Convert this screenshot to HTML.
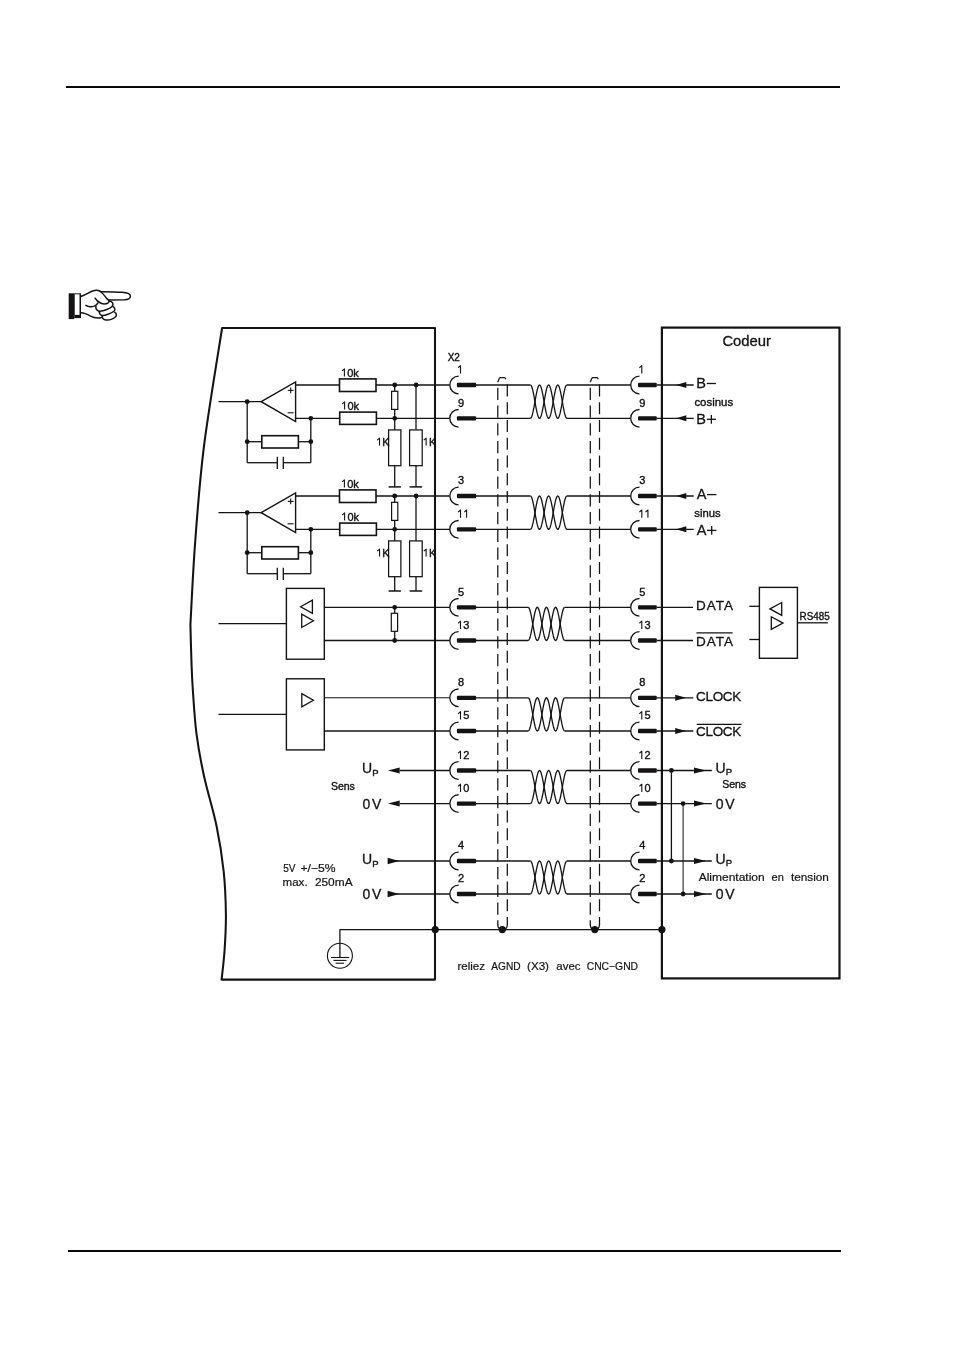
<!DOCTYPE html>
<html><head><meta charset="utf-8"><style>
html,body{margin:0;padding:0;background:#fff;}
body{width:954px;height:1350px;overflow:hidden;font-family:"Liberation Sans",sans-serif;}
svg{display:block;will-change:transform;}
</style></head><body>
<svg width="954" height="1350" viewBox="0 0 954 1350">
<rect x="66" y="86" width="774" height="2" fill="#0a0808"/>
<rect x="68" y="1250" width="773" height="2" fill="#0a0808"/>
<rect x="68.7" y="293.3" width="5.6" height="25.8" fill="#141212"/>
<rect x="74.3" y="293.3" width="6.7" height="24.8" fill="#141212"/>
<rect x="74.9" y="294.3" width="4.6" height="20.6" fill="#fff"/>
<path d="M80.8,296.5 C84,295.6 88,293 92.6,291 C95,290 98,290 100,291.2 L101,291.7 C108,291.8 116,291.9 122,292.3 C127,292.7 130.5,294 130.4,296.2 C130.3,298.4 127.5,299.6 124.4,299.8 L108.5,300" fill="none" stroke="#141212" stroke-width="1.5" stroke-linecap="round" stroke-linejoin="round"/>
<path d="M99.7,291 C102,292.6 104.5,295.5 106.8,298.6 L108.5,300" fill="none" stroke="#141212" stroke-width="1.5" stroke-linecap="round" stroke-linejoin="round"/>
<path d="M95.1,298.2 C96,300 98,302 101,303.2 C103,304 105.5,304.2 107.7,303.2 C109,302.4 109.5,301 108.5,300" fill="none" stroke="#141212" stroke-width="1.5" stroke-linecap="round" stroke-linejoin="round"/>
<path d="M85.9,305.3 C88,306.5 91,307.3 94.3,306.1 C96,305.4 97.3,304 98,302.8" fill="none" stroke="#141212" stroke-width="1.5" stroke-linecap="round" stroke-linejoin="round"/>
<path d="M95.9,305.7 C95.6,308 96.3,310.2 98.5,311 C101,311.6 104,310.6 106.8,309.5 C109,308.6 111.5,307.5 112.6,305.8 C113.6,304 112.5,301.6 109.4,301.1" fill="none" stroke="#141212" stroke-width="1.5" stroke-linecap="round" stroke-linejoin="round"/>
<path d="M99.3,311.6 C99.2,313.3 100.3,315 102.2,315.4 C104,315.6 106,315 107.3,314.5 C110,313.5 112.5,312.5 114,311.2 C115.5,309.8 115.2,307.5 112.3,306.1" fill="none" stroke="#141212" stroke-width="1.5" stroke-linecap="round" stroke-linejoin="round"/>
<path d="M102.2,316.2 C102.2,318 103.5,319.6 106,320 C108,320.2 110,319.8 111.9,319.1 C114,318.3 116,317.3 116.3,315.5 C116.5,314 115.8,313 114.8,312.4" fill="none" stroke="#141212" stroke-width="1.5" stroke-linecap="round" stroke-linejoin="round"/>
<path d="M80.8,312.8 C83,312.8 86,313.5 90.5,316.2 C93,317.5 96,318.2 99.7,317.9 C100.8,317.8 101.6,317.5 102.2,317" fill="none" stroke="#141212" stroke-width="1.5" stroke-linecap="round" stroke-linejoin="round"/>
<path d="M222.1,328 C219.08,347.67 208.48,410.38 204.00,446.00 C199.52,481.62 197.47,511.90 195.20,541.70 C192.93,571.50 191.20,610.95 190.40,624.80 C190.57,630.67 191.02,649.50 191.40,660.00 C191.78,670.50 191.87,675.62 192.70,687.80 C193.53,699.98 194.52,718.40 196.40,733.10 C198.28,747.80 200.63,760.47 204.00,776.00 C207.37,791.53 213.32,810.35 216.60,826.30 C219.88,842.25 222.15,857.00 223.70,871.70 C225.25,886.40 225.75,901.45 225.90,914.50 C226.05,927.55 225.32,939.15 224.60,950.00 C223.88,960.85 222.10,974.67 221.60,979.60 L435,979.6 L435,328 Z" fill="none" stroke="#141212" stroke-width="2.05" stroke-linejoin="round"/>
<rect x="661.90" y="327.60" width="177.60" height="650.80" fill="none" stroke="#141212" stroke-width="2.2"/>
<line x1="218.50" y1="401.65" x2="261.20" y2="401.65" stroke="#141212" stroke-width="1.3"/>
<polygon points="261.20,401.65 295.60,381.85 295.60,421.55" fill="none" stroke="#141212" stroke-width="1.4" stroke-linejoin="miter" />
<line x1="287.80" y1="390.40" x2="293.60" y2="390.40" stroke="#141212" stroke-width="1.1"/>
<line x1="290.70" y1="387.50" x2="290.70" y2="393.30" stroke="#141212" stroke-width="1.1"/>
<line x1="287.60" y1="412.80" x2="293.60" y2="412.80" stroke="#141212" stroke-width="1.1"/>
<line x1="295.60" y1="385.00" x2="339.50" y2="385.00" stroke="#141212" stroke-width="1.3"/>
<line x1="376.00" y1="385.00" x2="449.70" y2="385.00" stroke="#141212" stroke-width="1.3"/>
<line x1="295.60" y1="418.30" x2="339.70" y2="418.30" stroke="#141212" stroke-width="1.3"/>
<line x1="376.40" y1="418.30" x2="449.70" y2="418.30" stroke="#141212" stroke-width="1.3"/>
<rect x="339.50" y="378.90" width="36.50" height="12.60" fill="#fff" stroke="#141212" stroke-width="1.6"/>
<rect x="339.70" y="412.10" width="36.70" height="12.30" fill="#fff" stroke="#141212" stroke-width="1.6"/>
<text x="341.10" y="376.50" font-family="Liberation Sans" font-size="11" fill="#141212" stroke="#141212" stroke-width="0.38" text-anchor="start" >&#8199;0k</text>
<path d="M341.98,370.89 Q343.30,369.90 344.40,368.80 L344.40,376.50" fill="none" stroke="#141212" stroke-width="1.1" stroke-linejoin="round"/>
<text x="341.30" y="409.60" font-family="Liberation Sans" font-size="11" fill="#141212" stroke="#141212" stroke-width="0.38" text-anchor="start" >&#8199;0k</text>
<path d="M342.18,403.99 Q343.50,403.00 344.60,401.90 L344.60,409.60" fill="none" stroke="#141212" stroke-width="1.1" stroke-linejoin="round"/>
<circle cx="394.70" cy="385.00" r="2.4" fill="#141212"/>
<circle cx="416.10" cy="385.00" r="2.4" fill="#141212"/>
<circle cx="394.70" cy="418.30" r="2.4" fill="#141212"/>
<circle cx="310.80" cy="418.30" r="2.4" fill="#141212"/>
<line x1="394.70" y1="385.00" x2="394.70" y2="418.30" stroke="#141212" stroke-width="1.3"/>
<rect x="391.60" y="391.30" width="6.20" height="18.10" fill="#fff" stroke="#141212" stroke-width="1.2"/>
<line x1="394.70" y1="418.30" x2="394.70" y2="429.90" stroke="#141212" stroke-width="1.3"/>
<line x1="416.00" y1="385.00" x2="416.00" y2="429.90" stroke="#141212" stroke-width="1.3"/>
<rect x="388.60" y="429.90" width="12.30" height="35.80" fill="#fff" stroke="#141212" stroke-width="1.25"/>
<rect x="409.60" y="429.90" width="12.60" height="35.80" fill="#fff" stroke="#141212" stroke-width="1.25"/>
<line x1="394.70" y1="465.70" x2="394.70" y2="486.90" stroke="#141212" stroke-width="1.3"/>
<line x1="416.00" y1="465.70" x2="416.00" y2="486.90" stroke="#141212" stroke-width="1.3"/>
<line x1="388.60" y1="486.90" x2="400.90" y2="486.90" stroke="#141212" stroke-width="1.5"/>
<line x1="409.60" y1="486.90" x2="422.20" y2="486.90" stroke="#141212" stroke-width="1.5"/>
<text x="376.30" y="445.60" font-family="Liberation Sans" font-size="10.8" fill="#141212" stroke="#141212" stroke-width="0.38" text-anchor="start" >&#8199;K</text>
<path d="M377.16,440.09 Q378.46,439.12 379.54,438.04 L379.54,445.60" fill="none" stroke="#141212" stroke-width="1.1" stroke-linejoin="round"/>
<text x="422.90" y="445.60" font-family="Liberation Sans" font-size="10.8" fill="#141212" stroke="#141212" stroke-width="0.38" text-anchor="start" >&#8199;K</text>
<path d="M423.76,440.09 Q425.06,439.12 426.14,438.04 L426.14,445.60" fill="none" stroke="#141212" stroke-width="1.1" stroke-linejoin="round"/>
<circle cx="247.20" cy="401.65" r="2.4" fill="#141212"/>
<line x1="247.20" y1="401.65" x2="247.20" y2="462.70" stroke="#141212" stroke-width="1.3"/>
<line x1="310.80" y1="418.30" x2="310.80" y2="462.70" stroke="#141212" stroke-width="1.3"/>
<line x1="247.20" y1="462.70" x2="277.30" y2="462.70" stroke="#141212" stroke-width="1.3"/>
<line x1="283.30" y1="462.70" x2="310.80" y2="462.70" stroke="#141212" stroke-width="1.3"/>
<line x1="277.30" y1="456.70" x2="277.30" y2="469.10" stroke="#141212" stroke-width="1.3"/>
<line x1="283.30" y1="456.70" x2="283.30" y2="469.10" stroke="#141212" stroke-width="1.3"/>
<line x1="247.20" y1="441.70" x2="261.80" y2="441.70" stroke="#141212" stroke-width="1.3"/>
<line x1="298.40" y1="441.70" x2="310.80" y2="441.70" stroke="#141212" stroke-width="1.3"/>
<rect x="261.80" y="435.70" width="36.60" height="12.30" fill="#fff" stroke="#141212" stroke-width="1.6"/>
<circle cx="247.20" cy="441.70" r="2.4" fill="#141212"/>
<circle cx="310.80" cy="441.70" r="2.4" fill="#141212"/>
<line x1="218.50" y1="512.65" x2="261.20" y2="512.65" stroke="#141212" stroke-width="1.3"/>
<polygon points="261.20,512.65 295.60,492.85 295.60,532.55" fill="none" stroke="#141212" stroke-width="1.4" stroke-linejoin="miter" />
<line x1="287.80" y1="501.40" x2="293.60" y2="501.40" stroke="#141212" stroke-width="1.1"/>
<line x1="290.70" y1="498.50" x2="290.70" y2="504.30" stroke="#141212" stroke-width="1.1"/>
<line x1="287.60" y1="523.80" x2="293.60" y2="523.80" stroke="#141212" stroke-width="1.1"/>
<line x1="295.60" y1="496.00" x2="339.50" y2="496.00" stroke="#141212" stroke-width="1.3"/>
<line x1="376.00" y1="496.00" x2="449.70" y2="496.00" stroke="#141212" stroke-width="1.3"/>
<line x1="295.60" y1="529.30" x2="339.70" y2="529.30" stroke="#141212" stroke-width="1.3"/>
<line x1="376.40" y1="529.30" x2="449.70" y2="529.30" stroke="#141212" stroke-width="1.3"/>
<rect x="339.50" y="489.90" width="36.50" height="12.60" fill="#fff" stroke="#141212" stroke-width="1.6"/>
<rect x="339.70" y="523.10" width="36.70" height="12.30" fill="#fff" stroke="#141212" stroke-width="1.6"/>
<text x="341.10" y="487.50" font-family="Liberation Sans" font-size="11" fill="#141212" stroke="#141212" stroke-width="0.38" text-anchor="start" >&#8199;0k</text>
<path d="M341.98,481.89 Q343.30,480.90 344.40,479.80 L344.40,487.50" fill="none" stroke="#141212" stroke-width="1.1" stroke-linejoin="round"/>
<text x="341.30" y="520.60" font-family="Liberation Sans" font-size="11" fill="#141212" stroke="#141212" stroke-width="0.38" text-anchor="start" >&#8199;0k</text>
<path d="M342.18,514.99 Q343.50,514.00 344.60,512.90 L344.60,520.60" fill="none" stroke="#141212" stroke-width="1.1" stroke-linejoin="round"/>
<circle cx="394.70" cy="496.00" r="2.4" fill="#141212"/>
<circle cx="416.10" cy="496.00" r="2.4" fill="#141212"/>
<circle cx="394.70" cy="529.30" r="2.4" fill="#141212"/>
<circle cx="310.80" cy="529.30" r="2.4" fill="#141212"/>
<line x1="394.70" y1="496.00" x2="394.70" y2="529.30" stroke="#141212" stroke-width="1.3"/>
<rect x="391.60" y="502.30" width="6.20" height="18.10" fill="#fff" stroke="#141212" stroke-width="1.2"/>
<line x1="394.70" y1="529.30" x2="394.70" y2="540.90" stroke="#141212" stroke-width="1.3"/>
<line x1="416.00" y1="496.00" x2="416.00" y2="540.90" stroke="#141212" stroke-width="1.3"/>
<rect x="388.60" y="540.90" width="12.30" height="35.80" fill="#fff" stroke="#141212" stroke-width="1.25"/>
<rect x="409.60" y="540.90" width="12.60" height="35.80" fill="#fff" stroke="#141212" stroke-width="1.25"/>
<line x1="394.70" y1="576.70" x2="394.70" y2="591.00" stroke="#141212" stroke-width="1.3"/>
<line x1="416.00" y1="576.70" x2="416.00" y2="591.00" stroke="#141212" stroke-width="1.3"/>
<line x1="388.60" y1="591.00" x2="400.90" y2="591.00" stroke="#141212" stroke-width="1.5"/>
<line x1="409.60" y1="591.00" x2="422.20" y2="591.00" stroke="#141212" stroke-width="1.5"/>
<text x="376.30" y="556.60" font-family="Liberation Sans" font-size="10.8" fill="#141212" stroke="#141212" stroke-width="0.38" text-anchor="start" >&#8199;K</text>
<path d="M377.16,551.09 Q378.46,550.12 379.54,549.04 L379.54,556.60" fill="none" stroke="#141212" stroke-width="1.1" stroke-linejoin="round"/>
<text x="422.90" y="556.60" font-family="Liberation Sans" font-size="10.8" fill="#141212" stroke="#141212" stroke-width="0.38" text-anchor="start" >&#8199;K</text>
<path d="M423.76,551.09 Q425.06,550.12 426.14,549.04 L426.14,556.60" fill="none" stroke="#141212" stroke-width="1.1" stroke-linejoin="round"/>
<circle cx="247.20" cy="512.65" r="2.4" fill="#141212"/>
<line x1="247.20" y1="512.65" x2="247.20" y2="573.70" stroke="#141212" stroke-width="1.3"/>
<line x1="310.80" y1="529.30" x2="310.80" y2="573.70" stroke="#141212" stroke-width="1.3"/>
<line x1="247.20" y1="573.70" x2="277.30" y2="573.70" stroke="#141212" stroke-width="1.3"/>
<line x1="283.30" y1="573.70" x2="310.80" y2="573.70" stroke="#141212" stroke-width="1.3"/>
<line x1="277.30" y1="567.70" x2="277.30" y2="580.10" stroke="#141212" stroke-width="1.3"/>
<line x1="283.30" y1="567.70" x2="283.30" y2="580.10" stroke="#141212" stroke-width="1.3"/>
<line x1="247.20" y1="552.70" x2="261.80" y2="552.70" stroke="#141212" stroke-width="1.3"/>
<line x1="298.40" y1="552.70" x2="310.80" y2="552.70" stroke="#141212" stroke-width="1.3"/>
<rect x="261.80" y="546.70" width="36.60" height="12.30" fill="#fff" stroke="#141212" stroke-width="1.6"/>
<circle cx="247.20" cy="552.70" r="2.4" fill="#141212"/>
<circle cx="310.80" cy="552.70" r="2.4" fill="#141212"/>
<rect x="286.40" y="588.40" width="37.90" height="70.80" fill="none" stroke="#141212" stroke-width="1.4"/>
<line x1="218.50" y1="623.60" x2="286.40" y2="623.60" stroke="#141212" stroke-width="1.3"/>
<polygon points="300.60,606.70 312.40,600.10 312.40,613.30" fill="none" stroke="#141212" stroke-width="1.3" stroke-linejoin="miter" />
<polygon points="301.70,614.20 301.70,627.50 313.40,620.80" fill="none" stroke="#141212" stroke-width="1.3" stroke-linejoin="miter" />
<line x1="324.30" y1="607.30" x2="449.70" y2="607.30" stroke="#141212" stroke-width="1.3"/>
<line x1="324.30" y1="640.50" x2="449.70" y2="640.50" stroke="#141212" stroke-width="1.3"/>
<circle cx="394.70" cy="607.30" r="2.4" fill="#141212"/>
<circle cx="394.70" cy="640.50" r="2.4" fill="#141212"/>
<line x1="394.70" y1="607.30" x2="394.70" y2="640.50" stroke="#141212" stroke-width="1.3"/>
<rect x="391.30" y="613.30" width="6.30" height="18.00" fill="#fff" stroke="#141212" stroke-width="1.2"/>
<rect x="286.40" y="678.80" width="37.90" height="71.10" fill="none" stroke="#141212" stroke-width="1.4"/>
<line x1="218.50" y1="714.30" x2="286.40" y2="714.30" stroke="#141212" stroke-width="1.3"/>
<polygon points="301.80,693.70 301.80,706.90 313.40,700.30" fill="none" stroke="#141212" stroke-width="1.3" stroke-linejoin="miter" />
<line x1="324.30" y1="697.80" x2="449.70" y2="697.80" stroke="#141212" stroke-width="1.05"/>
<line x1="324.30" y1="731.00" x2="449.70" y2="731.00" stroke="#141212" stroke-width="1.3"/>
<line x1="399.70" y1="770.50" x2="449.70" y2="770.50" stroke="#141212" stroke-width="1.3"/>
<polygon points="387.9,770.5 399.7,767.5 399.7,773.5" fill="#141212"/>
<line x1="399.70" y1="803.55" x2="449.70" y2="803.55" stroke="#141212" stroke-width="1.3"/>
<polygon points="387.9,803.55 399.7,800.55 399.7,806.55" fill="#141212"/>
<line x1="388.30" y1="861.00" x2="449.70" y2="861.00" stroke="#141212" stroke-width="1.3"/>
<polygon points="399.0,861.0 387.6,857.8 387.6,864.2" fill="#141212"/>
<line x1="388.30" y1="894.00" x2="449.70" y2="894.00" stroke="#141212" stroke-width="1.3"/>
<polygon points="399.0,894 387.6,890.8 387.6,897.2" fill="#141212"/>
<text x="362.00" y="773.40" font-family="Liberation Sans" font-size="14" fill="#141212" stroke="#141212" stroke-width="0.3" text-anchor="start" >U</text>
<text x="372.20" y="775.70" font-family="Liberation Sans" font-size="9.5" fill="#141212" stroke="#141212" stroke-width="0.38" text-anchor="start" >P</text>
<text x="362.40" y="808.80" font-family="Liberation Sans" font-size="14" fill="#141212" stroke="#141212" stroke-width="0.3" text-anchor="start" textLength="18.90" lengthAdjust="spacing" >0V</text>
<text x="362.00" y="864.20" font-family="Liberation Sans" font-size="14" fill="#141212" stroke="#141212" stroke-width="0.3" text-anchor="start" >U</text>
<text x="372.20" y="866.50" font-family="Liberation Sans" font-size="9.5" fill="#141212" stroke="#141212" stroke-width="0.38" text-anchor="start" >P</text>
<text x="362.40" y="899.40" font-family="Liberation Sans" font-size="14" fill="#141212" stroke="#141212" stroke-width="0.3" text-anchor="start" textLength="18.90" lengthAdjust="spacing" >0V</text>
<text x="330.90" y="789.80" font-family="Liberation Sans" font-size="10.5" fill="#141212" stroke="#141212" stroke-width="0.38" text-anchor="start" >Sens</text>
<text x="283.20" y="871.80" font-family="Liberation Sans" font-size="11" fill="#141212" stroke="#141212" stroke-width="0.2" text-anchor="start" textLength="12.40" lengthAdjust="spacingAndGlyphs" >5V</text>
<text x="300.50" y="871.80" font-family="Liberation Sans" font-size="11" fill="#141212" stroke="#141212" stroke-width="0.2" text-anchor="start" textLength="35.00" lengthAdjust="spacingAndGlyphs" >+/&#8722;5%</text>
<text x="282.60" y="886.30" font-family="Liberation Sans" font-size="11" fill="#141212" stroke="#141212" stroke-width="0.2" text-anchor="start" textLength="25.00" lengthAdjust="spacingAndGlyphs" >max.</text>
<text x="314.90" y="886.30" font-family="Liberation Sans" font-size="11" fill="#141212" stroke="#141212" stroke-width="0.2" text-anchor="start" textLength="37.70" lengthAdjust="spacingAndGlyphs" >250mA</text>
<line x1="339.90" y1="929.60" x2="661.90" y2="929.60" stroke="#141212" stroke-width="1.3"/>
<line x1="339.90" y1="929.60" x2="339.90" y2="957.50" stroke="#141212" stroke-width="1.3"/>
<circle cx="339.9" cy="955.7" r="12.5" fill="none" stroke="#141212" stroke-width="1.1"/>
<line x1="331.00" y1="957.50" x2="349.20" y2="957.50" stroke="#141212" stroke-width="1.1"/>
<line x1="333.50" y1="960.40" x2="346.60" y2="960.40" stroke="#141212" stroke-width="1.1"/>
<line x1="335.70" y1="963.20" x2="344.00" y2="963.20" stroke="#141212" stroke-width="1.1"/>
<circle cx="435.20" cy="929.60" r="3.6" fill="#141212"/>
<circle cx="502.30" cy="929.60" r="3.6" fill="#141212"/>
<circle cx="594.80" cy="929.60" r="3.6" fill="#141212"/>
<circle cx="661.90" cy="929.60" r="3.6" fill="#141212"/>
<text x="457.40" y="970.20" font-family="Liberation Sans" font-size="11" fill="#141212" stroke="#141212" stroke-width="0.2" text-anchor="start" textLength="27.70" lengthAdjust="spacingAndGlyphs" >reliez</text>
<text x="491.30" y="970.20" font-family="Liberation Sans" font-size="11" fill="#141212" stroke="#141212" stroke-width="0.2" text-anchor="start" textLength="29.40" lengthAdjust="spacingAndGlyphs" >AGND</text>
<text x="527.00" y="970.20" font-family="Liberation Sans" font-size="11" fill="#141212" stroke="#141212" stroke-width="0.2" text-anchor="start" textLength="22.00" lengthAdjust="spacingAndGlyphs" >(X3)</text>
<text x="556.30" y="970.20" font-family="Liberation Sans" font-size="11" fill="#141212" stroke="#141212" stroke-width="0.2" text-anchor="start" textLength="24.20" lengthAdjust="spacingAndGlyphs" >avec</text>
<text x="586.70" y="970.20" font-family="Liberation Sans" font-size="11" fill="#141212" stroke="#141212" stroke-width="0.2" text-anchor="start" textLength="51.40" lengthAdjust="spacingAndGlyphs" >CNC&#8722;GND</text>
<text x="447.70" y="361.10" font-family="Liberation Sans" font-size="10" fill="#141212" stroke="#141212" stroke-width="0.38" text-anchor="start" >X2</text>
<line x1="476.00" y1="385.00" x2="530.40" y2="385.00" stroke="#141212" stroke-width="1.3"/>
<line x1="566.90" y1="385.00" x2="630.70" y2="385.00" stroke="#141212" stroke-width="1.3"/>
<line x1="476.00" y1="418.30" x2="530.40" y2="418.30" stroke="#141212" stroke-width="1.3"/>
<line x1="566.90" y1="418.30" x2="630.70" y2="418.30" stroke="#141212" stroke-width="1.3"/>
<polyline points="530.40,385.00 530.86,385.20 531.31,385.81 531.77,386.81 532.23,388.18 532.68,389.88 533.14,391.86 533.59,394.09 534.05,396.50 534.51,399.05 534.96,401.65 535.42,404.25 535.88,406.80 536.33,409.21 536.79,411.44 537.24,413.42 537.70,415.12 538.16,416.49 538.61,417.49 539.07,418.10 539.52,418.30 539.98,418.10 540.44,417.49 540.89,416.49 541.35,415.12 541.81,413.42 542.26,411.44 542.72,409.21 543.17,406.80 543.63,404.25 544.09,401.65 544.54,399.05 545.00,396.50 545.46,394.09 545.91,391.86 546.37,389.88 546.82,388.18 547.28,386.81 547.74,385.81 548.19,385.20 548.65,385.00 549.11,385.20 549.56,385.81 550.02,386.81 550.48,388.18 550.93,389.88 551.39,391.86 551.84,394.09 552.30,396.50 552.76,399.05 553.21,401.65 553.67,404.25 554.12,406.80 554.58,409.21 555.04,411.44 555.49,413.42 555.95,415.12 556.41,416.49 556.86,417.49 557.32,418.10 557.77,418.30 558.23,418.10 558.69,417.49 559.14,416.49 559.60,415.12 560.06,413.42 560.51,411.44 560.97,409.21 561.42,406.80 561.88,404.25 562.34,401.65 562.79,399.05 563.25,396.50 563.71,394.09 564.16,391.86 564.62,389.88 565.07,388.18 565.53,386.81 565.99,385.81 566.44,385.20 566.90,385.00" fill="none" stroke="#141212" stroke-width="1.3" stroke-linejoin="miter" />
<polyline points="530.40,418.30 530.86,418.10 531.31,417.49 531.77,416.49 532.23,415.12 532.68,413.42 533.14,411.44 533.59,409.21 534.05,406.80 534.51,404.25 534.96,401.65 535.42,399.05 535.88,396.50 536.33,394.09 536.79,391.86 537.24,389.88 537.70,388.18 538.16,386.81 538.61,385.81 539.07,385.20 539.52,385.00 539.98,385.20 540.44,385.81 540.89,386.81 541.35,388.18 541.81,389.88 542.26,391.86 542.72,394.09 543.17,396.50 543.63,399.05 544.09,401.65 544.54,404.25 545.00,406.80 545.46,409.21 545.91,411.44 546.37,413.42 546.82,415.12 547.28,416.49 547.74,417.49 548.19,418.10 548.65,418.30 549.11,418.10 549.56,417.49 550.02,416.49 550.48,415.12 550.93,413.42 551.39,411.44 551.84,409.21 552.30,406.80 552.76,404.25 553.21,401.65 553.67,399.05 554.12,396.50 554.58,394.09 555.04,391.86 555.49,389.88 555.95,388.18 556.41,386.81 556.86,385.81 557.32,385.20 557.77,385.00 558.23,385.20 558.69,385.81 559.14,386.81 559.60,388.18 560.06,389.88 560.51,391.86 560.97,394.09 561.42,396.50 561.88,399.05 562.34,401.65 562.79,404.25 563.25,406.80 563.71,409.21 564.16,411.44 564.62,413.42 565.07,415.12 565.53,416.49 565.99,417.49 566.44,418.10 566.90,418.30" fill="none" stroke="#141212" stroke-width="1.3" stroke-linejoin="miter" />
<line x1="476.00" y1="496.00" x2="530.40" y2="496.00" stroke="#141212" stroke-width="1.3"/>
<line x1="566.90" y1="496.00" x2="630.70" y2="496.00" stroke="#141212" stroke-width="1.3"/>
<line x1="476.00" y1="529.30" x2="530.40" y2="529.30" stroke="#141212" stroke-width="1.3"/>
<line x1="566.90" y1="529.30" x2="630.70" y2="529.30" stroke="#141212" stroke-width="1.3"/>
<polyline points="530.40,496.00 530.86,496.20 531.31,496.81 531.77,497.81 532.23,499.18 532.68,500.88 533.14,502.86 533.59,505.09 534.05,507.50 534.51,510.05 534.96,512.65 535.42,515.25 535.88,517.80 536.33,520.21 536.79,522.44 537.24,524.42 537.70,526.12 538.16,527.49 538.61,528.49 539.07,529.10 539.52,529.30 539.98,529.10 540.44,528.49 540.89,527.49 541.35,526.12 541.81,524.42 542.26,522.44 542.72,520.21 543.17,517.80 543.63,515.25 544.09,512.65 544.54,510.05 545.00,507.50 545.46,505.09 545.91,502.86 546.37,500.88 546.82,499.18 547.28,497.81 547.74,496.81 548.19,496.20 548.65,496.00 549.11,496.20 549.56,496.81 550.02,497.81 550.48,499.18 550.93,500.88 551.39,502.86 551.84,505.09 552.30,507.50 552.76,510.05 553.21,512.65 553.67,515.25 554.12,517.80 554.58,520.21 555.04,522.44 555.49,524.42 555.95,526.12 556.41,527.49 556.86,528.49 557.32,529.10 557.77,529.30 558.23,529.10 558.69,528.49 559.14,527.49 559.60,526.12 560.06,524.42 560.51,522.44 560.97,520.21 561.42,517.80 561.88,515.25 562.34,512.65 562.79,510.05 563.25,507.50 563.71,505.09 564.16,502.86 564.62,500.88 565.07,499.18 565.53,497.81 565.99,496.81 566.44,496.20 566.90,496.00" fill="none" stroke="#141212" stroke-width="1.3" stroke-linejoin="miter" />
<polyline points="530.40,529.30 530.86,529.10 531.31,528.49 531.77,527.49 532.23,526.12 532.68,524.42 533.14,522.44 533.59,520.21 534.05,517.80 534.51,515.25 534.96,512.65 535.42,510.05 535.88,507.50 536.33,505.09 536.79,502.86 537.24,500.88 537.70,499.18 538.16,497.81 538.61,496.81 539.07,496.20 539.52,496.00 539.98,496.20 540.44,496.81 540.89,497.81 541.35,499.18 541.81,500.88 542.26,502.86 542.72,505.09 543.17,507.50 543.63,510.05 544.09,512.65 544.54,515.25 545.00,517.80 545.46,520.21 545.91,522.44 546.37,524.42 546.82,526.12 547.28,527.49 547.74,528.49 548.19,529.10 548.65,529.30 549.11,529.10 549.56,528.49 550.02,527.49 550.48,526.12 550.93,524.42 551.39,522.44 551.84,520.21 552.30,517.80 552.76,515.25 553.21,512.65 553.67,510.05 554.12,507.50 554.58,505.09 555.04,502.86 555.49,500.88 555.95,499.18 556.41,497.81 556.86,496.81 557.32,496.20 557.77,496.00 558.23,496.20 558.69,496.81 559.14,497.81 559.60,499.18 560.06,500.88 560.51,502.86 560.97,505.09 561.42,507.50 561.88,510.05 562.34,512.65 562.79,515.25 563.25,517.80 563.71,520.21 564.16,522.44 564.62,524.42 565.07,526.12 565.53,527.49 565.99,528.49 566.44,529.10 566.90,529.30" fill="none" stroke="#141212" stroke-width="1.3" stroke-linejoin="miter" />
<line x1="476.00" y1="607.30" x2="528.20" y2="607.30" stroke="#141212" stroke-width="1.3"/>
<line x1="564.70" y1="607.30" x2="630.70" y2="607.30" stroke="#141212" stroke-width="1.3"/>
<line x1="476.00" y1="640.50" x2="528.20" y2="640.50" stroke="#141212" stroke-width="1.3"/>
<line x1="564.70" y1="640.50" x2="630.70" y2="640.50" stroke="#141212" stroke-width="1.3"/>
<polyline points="528.20,607.30 528.66,607.50 529.11,608.11 529.57,609.11 530.03,610.47 530.48,612.16 530.94,614.14 531.39,616.36 531.85,618.77 532.31,621.30 532.76,623.90 533.22,626.50 533.68,629.03 534.13,631.44 534.59,633.66 535.04,635.64 535.50,637.33 535.96,638.69 536.41,639.69 536.87,640.30 537.33,640.50 537.78,640.30 538.24,639.69 538.69,638.69 539.15,637.33 539.61,635.64 540.06,633.66 540.52,631.44 540.98,629.03 541.43,626.50 541.89,623.90 542.34,621.30 542.80,618.77 543.26,616.36 543.71,614.14 544.17,612.16 544.62,610.47 545.08,609.11 545.54,608.11 545.99,607.50 546.45,607.30 546.91,607.50 547.36,608.11 547.82,609.11 548.28,610.47 548.73,612.16 549.19,614.14 549.64,616.36 550.10,618.77 550.56,621.30 551.01,623.90 551.47,626.50 551.93,629.03 552.38,631.44 552.84,633.66 553.29,635.64 553.75,637.33 554.21,638.69 554.66,639.69 555.12,640.30 555.58,640.50 556.03,640.30 556.49,639.69 556.94,638.69 557.40,637.33 557.86,635.64 558.31,633.66 558.77,631.44 559.23,629.03 559.68,626.50 560.14,623.90 560.59,621.30 561.05,618.77 561.51,616.36 561.96,614.14 562.42,612.16 562.88,610.47 563.33,609.11 563.79,608.11 564.24,607.50 564.70,607.30" fill="none" stroke="#141212" stroke-width="1.3" stroke-linejoin="miter" />
<polyline points="528.20,640.50 528.66,640.30 529.11,639.69 529.57,638.69 530.03,637.33 530.48,635.64 530.94,633.66 531.39,631.44 531.85,629.03 532.31,626.50 532.76,623.90 533.22,621.30 533.68,618.77 534.13,616.36 534.59,614.14 535.04,612.16 535.50,610.47 535.96,609.11 536.41,608.11 536.87,607.50 537.33,607.30 537.78,607.50 538.24,608.11 538.69,609.11 539.15,610.47 539.61,612.16 540.06,614.14 540.52,616.36 540.98,618.77 541.43,621.30 541.89,623.90 542.34,626.50 542.80,629.03 543.26,631.44 543.71,633.66 544.17,635.64 544.62,637.33 545.08,638.69 545.54,639.69 545.99,640.30 546.45,640.50 546.91,640.30 547.36,639.69 547.82,638.69 548.28,637.33 548.73,635.64 549.19,633.66 549.64,631.44 550.10,629.03 550.56,626.50 551.01,623.90 551.47,621.30 551.93,618.77 552.38,616.36 552.84,614.14 553.29,612.16 553.75,610.47 554.21,609.11 554.66,608.11 555.12,607.50 555.58,607.30 556.03,607.50 556.49,608.11 556.94,609.11 557.40,610.47 557.86,612.16 558.31,614.14 558.77,616.36 559.23,618.77 559.68,621.30 560.14,623.90 560.59,626.50 561.05,629.03 561.51,631.44 561.96,633.66 562.42,635.64 562.88,637.33 563.33,638.69 563.79,639.69 564.24,640.30 564.70,640.50" fill="none" stroke="#141212" stroke-width="1.3" stroke-linejoin="miter" />
<line x1="476.00" y1="697.80" x2="528.20" y2="697.80" stroke="#141212" stroke-width="1.3"/>
<line x1="564.70" y1="697.80" x2="630.70" y2="697.80" stroke="#141212" stroke-width="1.3"/>
<line x1="476.00" y1="731.00" x2="528.20" y2="731.00" stroke="#141212" stroke-width="1.3"/>
<line x1="564.70" y1="731.00" x2="630.70" y2="731.00" stroke="#141212" stroke-width="1.3"/>
<polyline points="528.20,697.80 528.66,698.00 529.11,698.61 529.57,699.61 530.03,700.97 530.48,702.66 530.94,704.64 531.39,706.86 531.85,709.27 532.31,711.80 532.76,714.40 533.22,717.00 533.68,719.53 534.13,721.94 534.59,724.16 535.04,726.14 535.50,727.83 535.96,729.19 536.41,730.19 536.87,730.80 537.33,731.00 537.78,730.80 538.24,730.19 538.69,729.19 539.15,727.83 539.61,726.14 540.06,724.16 540.52,721.94 540.98,719.53 541.43,717.00 541.89,714.40 542.34,711.80 542.80,709.27 543.26,706.86 543.71,704.64 544.17,702.66 544.62,700.97 545.08,699.61 545.54,698.61 545.99,698.00 546.45,697.80 546.91,698.00 547.36,698.61 547.82,699.61 548.28,700.97 548.73,702.66 549.19,704.64 549.64,706.86 550.10,709.27 550.56,711.80 551.01,714.40 551.47,717.00 551.93,719.53 552.38,721.94 552.84,724.16 553.29,726.14 553.75,727.83 554.21,729.19 554.66,730.19 555.12,730.80 555.58,731.00 556.03,730.80 556.49,730.19 556.94,729.19 557.40,727.83 557.86,726.14 558.31,724.16 558.77,721.94 559.23,719.53 559.68,717.00 560.14,714.40 560.59,711.80 561.05,709.27 561.51,706.86 561.96,704.64 562.42,702.66 562.88,700.97 563.33,699.61 563.79,698.61 564.24,698.00 564.70,697.80" fill="none" stroke="#141212" stroke-width="1.3" stroke-linejoin="miter" />
<polyline points="528.20,731.00 528.66,730.80 529.11,730.19 529.57,729.19 530.03,727.83 530.48,726.14 530.94,724.16 531.39,721.94 531.85,719.53 532.31,717.00 532.76,714.40 533.22,711.80 533.68,709.27 534.13,706.86 534.59,704.64 535.04,702.66 535.50,700.97 535.96,699.61 536.41,698.61 536.87,698.00 537.33,697.80 537.78,698.00 538.24,698.61 538.69,699.61 539.15,700.97 539.61,702.66 540.06,704.64 540.52,706.86 540.98,709.27 541.43,711.80 541.89,714.40 542.34,717.00 542.80,719.53 543.26,721.94 543.71,724.16 544.17,726.14 544.62,727.83 545.08,729.19 545.54,730.19 545.99,730.80 546.45,731.00 546.91,730.80 547.36,730.19 547.82,729.19 548.28,727.83 548.73,726.14 549.19,724.16 549.64,721.94 550.10,719.53 550.56,717.00 551.01,714.40 551.47,711.80 551.93,709.27 552.38,706.86 552.84,704.64 553.29,702.66 553.75,700.97 554.21,699.61 554.66,698.61 555.12,698.00 555.58,697.80 556.03,698.00 556.49,698.61 556.94,699.61 557.40,700.97 557.86,702.66 558.31,704.64 558.77,706.86 559.23,709.27 559.68,711.80 560.14,714.40 560.59,717.00 561.05,719.53 561.51,721.94 561.96,724.16 562.42,726.14 562.88,727.83 563.33,729.19 563.79,730.19 564.24,730.80 564.70,731.00" fill="none" stroke="#141212" stroke-width="1.3" stroke-linejoin="miter" />
<line x1="476.00" y1="770.50" x2="530.40" y2="770.50" stroke="#141212" stroke-width="1.3"/>
<line x1="566.90" y1="770.50" x2="630.70" y2="770.50" stroke="#141212" stroke-width="1.3"/>
<line x1="476.00" y1="803.55" x2="530.40" y2="803.55" stroke="#141212" stroke-width="1.3"/>
<line x1="566.90" y1="803.55" x2="630.70" y2="803.55" stroke="#141212" stroke-width="1.3"/>
<polyline points="530.40,770.50 530.86,770.70 531.31,771.31 531.77,772.30 532.23,773.66 532.68,775.34 533.14,777.31 533.59,779.52 534.05,781.92 534.51,784.44 534.96,787.02 535.42,789.61 535.88,792.13 536.33,794.53 536.79,796.74 537.24,798.71 537.70,800.39 538.16,801.75 538.61,802.74 539.07,803.35 539.52,803.55 539.98,803.35 540.44,802.74 540.89,801.75 541.35,800.39 541.81,798.71 542.26,796.74 542.72,794.53 543.17,792.13 543.63,789.61 544.09,787.02 544.54,784.44 545.00,781.92 545.46,779.52 545.91,777.31 546.37,775.34 546.82,773.66 547.28,772.30 547.74,771.31 548.19,770.70 548.65,770.50 549.11,770.70 549.56,771.31 550.02,772.30 550.48,773.66 550.93,775.34 551.39,777.31 551.84,779.52 552.30,781.92 552.76,784.44 553.21,787.02 553.67,789.61 554.12,792.13 554.58,794.53 555.04,796.74 555.49,798.71 555.95,800.39 556.41,801.75 556.86,802.74 557.32,803.35 557.77,803.55 558.23,803.35 558.69,802.74 559.14,801.75 559.60,800.39 560.06,798.71 560.51,796.74 560.97,794.53 561.42,792.13 561.88,789.61 562.34,787.02 562.79,784.44 563.25,781.92 563.71,779.52 564.16,777.31 564.62,775.34 565.07,773.66 565.53,772.30 565.99,771.31 566.44,770.70 566.90,770.50" fill="none" stroke="#141212" stroke-width="1.3" stroke-linejoin="miter" />
<polyline points="530.40,803.55 530.86,803.35 531.31,802.74 531.77,801.75 532.23,800.39 532.68,798.71 533.14,796.74 533.59,794.53 534.05,792.13 534.51,789.61 534.96,787.02 535.42,784.44 535.88,781.92 536.33,779.52 536.79,777.31 537.24,775.34 537.70,773.66 538.16,772.30 538.61,771.31 539.07,770.70 539.52,770.50 539.98,770.70 540.44,771.31 540.89,772.30 541.35,773.66 541.81,775.34 542.26,777.31 542.72,779.52 543.17,781.92 543.63,784.44 544.09,787.02 544.54,789.61 545.00,792.13 545.46,794.53 545.91,796.74 546.37,798.71 546.82,800.39 547.28,801.75 547.74,802.74 548.19,803.35 548.65,803.55 549.11,803.35 549.56,802.74 550.02,801.75 550.48,800.39 550.93,798.71 551.39,796.74 551.84,794.53 552.30,792.13 552.76,789.61 553.21,787.02 553.67,784.44 554.12,781.92 554.58,779.52 555.04,777.31 555.49,775.34 555.95,773.66 556.41,772.30 556.86,771.31 557.32,770.70 557.77,770.50 558.23,770.70 558.69,771.31 559.14,772.30 559.60,773.66 560.06,775.34 560.51,777.31 560.97,779.52 561.42,781.92 561.88,784.44 562.34,787.02 562.79,789.61 563.25,792.13 563.71,794.53 564.16,796.74 564.62,798.71 565.07,800.39 565.53,801.75 565.99,802.74 566.44,803.35 566.90,803.55" fill="none" stroke="#141212" stroke-width="1.3" stroke-linejoin="miter" />
<line x1="476.00" y1="861.00" x2="530.40" y2="861.00" stroke="#141212" stroke-width="1.3"/>
<line x1="566.90" y1="861.00" x2="630.70" y2="861.00" stroke="#141212" stroke-width="1.3"/>
<line x1="476.00" y1="894.00" x2="530.40" y2="894.00" stroke="#141212" stroke-width="1.3"/>
<line x1="566.90" y1="894.00" x2="630.70" y2="894.00" stroke="#141212" stroke-width="1.3"/>
<polyline points="530.40,861.00 530.86,861.20 531.31,861.81 531.77,862.80 532.23,864.15 532.68,865.83 533.14,867.80 533.59,870.01 534.05,872.40 534.51,874.92 534.96,877.50 535.42,880.08 535.88,882.60 536.33,884.99 536.79,887.20 537.24,889.17 537.70,890.85 538.16,892.20 538.61,893.19 539.07,893.80 539.52,894.00 539.98,893.80 540.44,893.19 540.89,892.20 541.35,890.85 541.81,889.17 542.26,887.20 542.72,884.99 543.17,882.60 543.63,880.08 544.09,877.50 544.54,874.92 545.00,872.40 545.46,870.01 545.91,867.80 546.37,865.83 546.82,864.15 547.28,862.80 547.74,861.81 548.19,861.20 548.65,861.00 549.11,861.20 549.56,861.81 550.02,862.80 550.48,864.15 550.93,865.83 551.39,867.80 551.84,870.01 552.30,872.40 552.76,874.92 553.21,877.50 553.67,880.08 554.12,882.60 554.58,884.99 555.04,887.20 555.49,889.17 555.95,890.85 556.41,892.20 556.86,893.19 557.32,893.80 557.77,894.00 558.23,893.80 558.69,893.19 559.14,892.20 559.60,890.85 560.06,889.17 560.51,887.20 560.97,884.99 561.42,882.60 561.88,880.08 562.34,877.50 562.79,874.92 563.25,872.40 563.71,870.01 564.16,867.80 564.62,865.83 565.07,864.15 565.53,862.80 565.99,861.81 566.44,861.20 566.90,861.00" fill="none" stroke="#141212" stroke-width="1.3" stroke-linejoin="miter" />
<polyline points="530.40,894.00 530.86,893.80 531.31,893.19 531.77,892.20 532.23,890.85 532.68,889.17 533.14,887.20 533.59,884.99 534.05,882.60 534.51,880.08 534.96,877.50 535.42,874.92 535.88,872.40 536.33,870.01 536.79,867.80 537.24,865.83 537.70,864.15 538.16,862.80 538.61,861.81 539.07,861.20 539.52,861.00 539.98,861.20 540.44,861.81 540.89,862.80 541.35,864.15 541.81,865.83 542.26,867.80 542.72,870.01 543.17,872.40 543.63,874.92 544.09,877.50 544.54,880.08 545.00,882.60 545.46,884.99 545.91,887.20 546.37,889.17 546.82,890.85 547.28,892.20 547.74,893.19 548.19,893.80 548.65,894.00 549.11,893.80 549.56,893.19 550.02,892.20 550.48,890.85 550.93,889.17 551.39,887.20 551.84,884.99 552.30,882.60 552.76,880.08 553.21,877.50 553.67,874.92 554.12,872.40 554.58,870.01 555.04,867.80 555.49,865.83 555.95,864.15 556.41,862.80 556.86,861.81 557.32,861.20 557.77,861.00 558.23,861.20 558.69,861.81 559.14,862.80 559.60,864.15 560.06,865.83 560.51,867.80 560.97,870.01 561.42,872.40 561.88,874.92 562.34,877.50 562.79,880.08 563.25,882.60 563.71,884.99 564.16,887.20 564.62,889.17 565.07,890.85 565.53,892.20 565.99,893.19 566.44,893.80 566.90,894.00" fill="none" stroke="#141212" stroke-width="1.3" stroke-linejoin="miter" />
<path d="M458.6,376.2 A8.8,8.8 0 0 0 458.6,393.8" fill="none" stroke="#141212" stroke-width="1.3" />
<rect x="456.9" y="382.85" width="19.20" height="4.3" rx="1" fill="#141212"/>
<text x="457.20" y="373.40" font-family="Liberation Sans" font-size="11" fill="#141212" stroke="#141212" stroke-width="0.38" text-anchor="start" >&#8199;</text>
<path d="M458.08,367.79 Q459.40,366.80 460.50,365.70 L460.50,373.40" fill="none" stroke="#141212" stroke-width="1.1" stroke-linejoin="round"/>
<path d="M639.5,376.2 A8.8,8.8 0 0 0 639.5,393.8" fill="none" stroke="#141212" stroke-width="1.3" />
<rect x="638.0" y="382.85" width="18.80" height="4.3" rx="1" fill="#141212"/>
<text x="638.50" y="373.40" font-family="Liberation Sans" font-size="11" fill="#141212" stroke="#141212" stroke-width="0.38" text-anchor="start" >&#8199;</text>
<path d="M639.38,367.79 Q640.70,366.80 641.80,365.70 L641.80,373.40" fill="none" stroke="#141212" stroke-width="1.1" stroke-linejoin="round"/>
<path d="M458.6,409.5 A8.8,8.8 0 0 0 458.6,427.1" fill="none" stroke="#141212" stroke-width="1.3" />
<rect x="456.9" y="416.15" width="19.20" height="4.3" rx="1" fill="#141212"/>
<text x="457.90" y="406.70" font-family="Liberation Sans" font-size="11" fill="#141212" stroke="#141212" stroke-width="0.38" text-anchor="start" >9</text>
<path d="M639.5,409.5 A8.8,8.8 0 0 0 639.5,427.1" fill="none" stroke="#141212" stroke-width="1.3" />
<rect x="638.0" y="416.15" width="18.80" height="4.3" rx="1" fill="#141212"/>
<text x="639.20" y="406.70" font-family="Liberation Sans" font-size="11" fill="#141212" stroke="#141212" stroke-width="0.38" text-anchor="start" >9</text>
<path d="M458.6,487.2 A8.8,8.8 0 0 0 458.6,504.8" fill="none" stroke="#141212" stroke-width="1.3" />
<rect x="456.9" y="493.85" width="19.20" height="4.3" rx="1" fill="#141212"/>
<text x="457.90" y="484.40" font-family="Liberation Sans" font-size="11" fill="#141212" stroke="#141212" stroke-width="0.38" text-anchor="start" >3</text>
<path d="M639.5,487.2 A8.8,8.8 0 0 0 639.5,504.8" fill="none" stroke="#141212" stroke-width="1.3" />
<rect x="638.0" y="493.85" width="18.80" height="4.3" rx="1" fill="#141212"/>
<text x="639.20" y="484.40" font-family="Liberation Sans" font-size="11" fill="#141212" stroke="#141212" stroke-width="0.38" text-anchor="start" >3</text>
<path d="M458.6,520.5 A8.8,8.8 0 0 0 458.6,538.0999999999999" fill="none" stroke="#141212" stroke-width="1.3" />
<rect x="456.9" y="527.15" width="19.20" height="4.3" rx="1" fill="#141212"/>
<text x="457.20" y="517.70" font-family="Liberation Sans" font-size="11" fill="#141212" stroke="#141212" stroke-width="0.38" text-anchor="start" >&#8199;&#8199;</text>
<path d="M458.08,512.09 Q459.40,511.10 460.50,510.00 L460.50,517.70" fill="none" stroke="#141212" stroke-width="1.1" stroke-linejoin="round"/>
<path d="M464.20,512.09 Q465.52,511.10 466.62,510.00 L466.62,517.70" fill="none" stroke="#141212" stroke-width="1.1" stroke-linejoin="round"/>
<path d="M639.5,520.5 A8.8,8.8 0 0 0 639.5,538.0999999999999" fill="none" stroke="#141212" stroke-width="1.3" />
<rect x="638.0" y="527.15" width="18.80" height="4.3" rx="1" fill="#141212"/>
<text x="638.50" y="517.70" font-family="Liberation Sans" font-size="11" fill="#141212" stroke="#141212" stroke-width="0.38" text-anchor="start" >&#8199;&#8199;</text>
<path d="M639.38,512.09 Q640.70,511.10 641.80,510.00 L641.80,517.70" fill="none" stroke="#141212" stroke-width="1.1" stroke-linejoin="round"/>
<path d="M645.50,512.09 Q646.82,511.10 647.92,510.00 L647.92,517.70" fill="none" stroke="#141212" stroke-width="1.1" stroke-linejoin="round"/>
<path d="M458.6,598.5 A8.8,8.8 0 0 0 458.6,616.0999999999999" fill="none" stroke="#141212" stroke-width="1.3" />
<rect x="456.9" y="605.15" width="19.20" height="4.3" rx="1" fill="#141212"/>
<text x="457.90" y="595.70" font-family="Liberation Sans" font-size="11" fill="#141212" stroke="#141212" stroke-width="0.38" text-anchor="start" >5</text>
<path d="M639.5,598.5 A8.8,8.8 0 0 0 639.5,616.0999999999999" fill="none" stroke="#141212" stroke-width="1.3" />
<rect x="638.0" y="605.15" width="18.80" height="4.3" rx="1" fill="#141212"/>
<text x="639.20" y="595.70" font-family="Liberation Sans" font-size="11" fill="#141212" stroke="#141212" stroke-width="0.38" text-anchor="start" >5</text>
<path d="M458.6,631.7 A8.8,8.8 0 0 0 458.6,649.3" fill="none" stroke="#141212" stroke-width="1.3" />
<rect x="456.9" y="638.35" width="19.20" height="4.3" rx="1" fill="#141212"/>
<text x="457.20" y="628.90" font-family="Liberation Sans" font-size="11" fill="#141212" stroke="#141212" stroke-width="0.38" text-anchor="start" >&#8199;3</text>
<path d="M458.08,623.29 Q459.40,622.30 460.50,621.20 L460.50,628.90" fill="none" stroke="#141212" stroke-width="1.1" stroke-linejoin="round"/>
<path d="M639.5,631.7 A8.8,8.8 0 0 0 639.5,649.3" fill="none" stroke="#141212" stroke-width="1.3" />
<rect x="638.0" y="638.35" width="18.80" height="4.3" rx="1" fill="#141212"/>
<text x="638.50" y="628.90" font-family="Liberation Sans" font-size="11" fill="#141212" stroke="#141212" stroke-width="0.38" text-anchor="start" >&#8199;3</text>
<path d="M639.38,623.29 Q640.70,622.30 641.80,621.20 L641.80,628.90" fill="none" stroke="#141212" stroke-width="1.1" stroke-linejoin="round"/>
<path d="M458.6,689.0 A8.8,8.8 0 0 0 458.6,706.5999999999999" fill="none" stroke="#141212" stroke-width="1.3" />
<rect x="456.9" y="695.65" width="19.20" height="4.3" rx="1" fill="#141212"/>
<text x="457.90" y="686.20" font-family="Liberation Sans" font-size="11" fill="#141212" stroke="#141212" stroke-width="0.38" text-anchor="start" >8</text>
<path d="M639.5,689.0 A8.8,8.8 0 0 0 639.5,706.5999999999999" fill="none" stroke="#141212" stroke-width="1.3" />
<rect x="638.0" y="695.65" width="18.80" height="4.3" rx="1" fill="#141212"/>
<text x="639.20" y="686.20" font-family="Liberation Sans" font-size="11" fill="#141212" stroke="#141212" stroke-width="0.38" text-anchor="start" >8</text>
<path d="M458.6,722.2 A8.8,8.8 0 0 0 458.6,739.8" fill="none" stroke="#141212" stroke-width="1.3" />
<rect x="456.9" y="728.85" width="19.20" height="4.3" rx="1" fill="#141212"/>
<text x="457.20" y="719.40" font-family="Liberation Sans" font-size="11" fill="#141212" stroke="#141212" stroke-width="0.38" text-anchor="start" >&#8199;5</text>
<path d="M458.08,713.79 Q459.40,712.80 460.50,711.70 L460.50,719.40" fill="none" stroke="#141212" stroke-width="1.1" stroke-linejoin="round"/>
<path d="M639.5,722.2 A8.8,8.8 0 0 0 639.5,739.8" fill="none" stroke="#141212" stroke-width="1.3" />
<rect x="638.0" y="728.85" width="18.80" height="4.3" rx="1" fill="#141212"/>
<text x="638.50" y="719.40" font-family="Liberation Sans" font-size="11" fill="#141212" stroke="#141212" stroke-width="0.38" text-anchor="start" >&#8199;5</text>
<path d="M639.38,713.79 Q640.70,712.80 641.80,711.70 L641.80,719.40" fill="none" stroke="#141212" stroke-width="1.1" stroke-linejoin="round"/>
<path d="M458.6,761.7 A8.8,8.8 0 0 0 458.6,779.3" fill="none" stroke="#141212" stroke-width="1.3" />
<rect x="456.9" y="768.35" width="19.20" height="4.3" rx="1" fill="#141212"/>
<text x="457.20" y="758.90" font-family="Liberation Sans" font-size="11" fill="#141212" stroke="#141212" stroke-width="0.38" text-anchor="start" >&#8199;2</text>
<path d="M458.08,753.29 Q459.40,752.30 460.50,751.20 L460.50,758.90" fill="none" stroke="#141212" stroke-width="1.1" stroke-linejoin="round"/>
<path d="M639.5,761.7 A8.8,8.8 0 0 0 639.5,779.3" fill="none" stroke="#141212" stroke-width="1.3" />
<rect x="638.0" y="768.35" width="18.80" height="4.3" rx="1" fill="#141212"/>
<text x="638.50" y="758.90" font-family="Liberation Sans" font-size="11" fill="#141212" stroke="#141212" stroke-width="0.38" text-anchor="start" >&#8199;2</text>
<path d="M639.38,753.29 Q640.70,752.30 641.80,751.20 L641.80,758.90" fill="none" stroke="#141212" stroke-width="1.1" stroke-linejoin="round"/>
<path d="M458.6,794.75 A8.8,8.8 0 0 0 458.6,812.3499999999999" fill="none" stroke="#141212" stroke-width="1.3" />
<rect x="456.9" y="801.40" width="19.20" height="4.3" rx="1" fill="#141212"/>
<text x="457.20" y="791.95" font-family="Liberation Sans" font-size="11" fill="#141212" stroke="#141212" stroke-width="0.38" text-anchor="start" >&#8199;0</text>
<path d="M458.08,786.34 Q459.40,785.35 460.50,784.25 L460.50,791.95" fill="none" stroke="#141212" stroke-width="1.1" stroke-linejoin="round"/>
<path d="M639.5,794.75 A8.8,8.8 0 0 0 639.5,812.3499999999999" fill="none" stroke="#141212" stroke-width="1.3" />
<rect x="638.0" y="801.40" width="18.80" height="4.3" rx="1" fill="#141212"/>
<text x="638.50" y="791.95" font-family="Liberation Sans" font-size="11" fill="#141212" stroke="#141212" stroke-width="0.38" text-anchor="start" >&#8199;0</text>
<path d="M639.38,786.34 Q640.70,785.35 641.80,784.25 L641.80,791.95" fill="none" stroke="#141212" stroke-width="1.1" stroke-linejoin="round"/>
<path d="M458.6,852.2 A8.8,8.8 0 0 0 458.6,869.8" fill="none" stroke="#141212" stroke-width="1.3" />
<rect x="456.9" y="858.85" width="19.20" height="4.3" rx="1" fill="#141212"/>
<text x="457.90" y="849.40" font-family="Liberation Sans" font-size="11" fill="#141212" stroke="#141212" stroke-width="0.38" text-anchor="start" >4</text>
<path d="M639.5,852.2 A8.8,8.8 0 0 0 639.5,869.8" fill="none" stroke="#141212" stroke-width="1.3" />
<rect x="638.0" y="858.85" width="18.80" height="4.3" rx="1" fill="#141212"/>
<text x="639.20" y="849.40" font-family="Liberation Sans" font-size="11" fill="#141212" stroke="#141212" stroke-width="0.38" text-anchor="start" >4</text>
<path d="M458.6,885.2 A8.8,8.8 0 0 0 458.6,902.8" fill="none" stroke="#141212" stroke-width="1.3" />
<rect x="456.9" y="891.85" width="19.20" height="4.3" rx="1" fill="#141212"/>
<text x="457.90" y="882.40" font-family="Liberation Sans" font-size="11" fill="#141212" stroke="#141212" stroke-width="0.38" text-anchor="start" >2</text>
<path d="M639.5,885.2 A8.8,8.8 0 0 0 639.5,902.8" fill="none" stroke="#141212" stroke-width="1.3" />
<rect x="638.0" y="891.85" width="18.80" height="4.3" rx="1" fill="#141212"/>
<text x="639.20" y="882.40" font-family="Liberation Sans" font-size="11" fill="#141212" stroke="#141212" stroke-width="0.38" text-anchor="start" >2</text>
<path d="M497.7,382.3 L499.40000000000003,378.2 Q499.7,377.5 500.40000000000003,377.5 L504.40000000000003,377.5 Q505.2,377.6 505.7,379.2" fill="none" stroke="#141212" stroke-width="1.25" />
<line x1="497.8" y1="387.8" x2="497.8" y2="925" stroke="#141212" stroke-width="1.25" stroke-dasharray="12.2 5.55"/>
<line x1="507.3" y1="384.4" x2="507.3" y2="925" stroke="#141212" stroke-width="1.25" stroke-dasharray="12.2 5.55"/>
<path d="M497.8,924.5 Q497.8,929.6 502.5,929.6 Q507.3,929.6 507.3,924.5" fill="none" stroke="#141212" stroke-width="1.25" />
<path d="M590.1999999999999,382.3 L591.9,378.2 Q592.1999999999999,377.5 592.9,377.5 L596.9,377.5 Q597.6999999999999,377.6 598.1999999999999,379.2" fill="none" stroke="#141212" stroke-width="1.25" />
<line x1="590.3" y1="387.8" x2="590.3" y2="925" stroke="#141212" stroke-width="1.25" stroke-dasharray="12.2 5.55"/>
<line x1="599.5" y1="384.4" x2="599.5" y2="925" stroke="#141212" stroke-width="1.25" stroke-dasharray="12.2 5.55"/>
<path d="M590.3,924.5 Q590.3,929.6 594.8,929.6 Q599.5,929.6 599.5,924.5" fill="none" stroke="#141212" stroke-width="1.25" />
<text x="722.40" y="346.00" font-family="Liberation Sans" font-size="14" fill="#141212" stroke="#141212" stroke-width="0.3" text-anchor="start" textLength="48.60" lengthAdjust="spacingAndGlyphs" >Codeur</text>
<line x1="656.80" y1="385.00" x2="693.70" y2="385.00" stroke="#141212" stroke-width="1.3"/>
<polygon points="676.1,385.0 686.3,382.0 686.3,388.0" fill="#141212"/>
<line x1="656.80" y1="418.30" x2="693.70" y2="418.30" stroke="#141212" stroke-width="1.3"/>
<polygon points="676.1,418.3 686.3,415.3 686.3,421.3" fill="#141212"/>
<line x1="656.80" y1="496.00" x2="693.70" y2="496.00" stroke="#141212" stroke-width="1.3"/>
<polygon points="676.1,496.0 686.3,493.0 686.3,499.0" fill="#141212"/>
<line x1="656.80" y1="529.30" x2="693.70" y2="529.30" stroke="#141212" stroke-width="1.3"/>
<polygon points="676.1,529.3 686.3,526.3 686.3,532.3" fill="#141212"/>
<text x="696.20" y="388.10" font-family="Liberation Sans" font-size="14.5" fill="#141212" stroke="#141212" stroke-width="0.3" text-anchor="start" >B</text>
<text x="696.20" y="423.70" font-family="Liberation Sans" font-size="14.5" fill="#141212" stroke="#141212" stroke-width="0.3" text-anchor="start" >B</text>
<line x1="706.80" y1="383.50" x2="715.90" y2="383.50" stroke="#141212" stroke-width="1.3"/>
<line x1="706.80" y1="419.30" x2="715.90" y2="419.30" stroke="#141212" stroke-width="1.3"/>
<line x1="711.35" y1="415.10" x2="711.35" y2="423.70" stroke="#141212" stroke-width="1.3"/>
<text x="694.40" y="406.40" font-family="Liberation Sans" font-size="11.8" fill="#141212" stroke="#141212" stroke-width="0.38" text-anchor="start" textLength="38.80" lengthAdjust="spacingAndGlyphs" >cosinus</text>
<text x="696.70" y="498.80" font-family="Liberation Sans" font-size="14.5" fill="#141212" stroke="#141212" stroke-width="0.3" text-anchor="start" >A</text>
<text x="696.70" y="534.70" font-family="Liberation Sans" font-size="14.5" fill="#141212" stroke="#141212" stroke-width="0.3" text-anchor="start" >A</text>
<line x1="707.00" y1="494.60" x2="716.40" y2="494.60" stroke="#141212" stroke-width="1.3"/>
<line x1="707.00" y1="530.40" x2="716.40" y2="530.40" stroke="#141212" stroke-width="1.3"/>
<line x1="711.70" y1="525.90" x2="711.70" y2="534.70" stroke="#141212" stroke-width="1.3"/>
<text x="694.30" y="517.40" font-family="Liberation Sans" font-size="11.8" fill="#141212" stroke="#141212" stroke-width="0.38" text-anchor="start" textLength="26.30" lengthAdjust="spacingAndGlyphs" >sinus</text>
<line x1="656.80" y1="607.30" x2="693.00" y2="607.30" stroke="#141212" stroke-width="1.3"/>
<line x1="656.80" y1="640.50" x2="693.00" y2="640.50" stroke="#141212" stroke-width="1.3"/>
<text x="696.00" y="610.40" font-family="Liberation Sans" font-size="13.5" fill="#141212" stroke="#141212" stroke-width="0.3" text-anchor="start" textLength="37.00" lengthAdjust="spacing" >DATA</text>
<text x="696.00" y="645.60" font-family="Liberation Sans" font-size="13.5" fill="#141212" stroke="#141212" stroke-width="0.3" text-anchor="start" textLength="37.00" lengthAdjust="spacing" >DATA</text>
<line x1="696.40" y1="632.80" x2="732.60" y2="632.80" stroke="#141212" stroke-width="1.2"/>
<line x1="749.30" y1="606.30" x2="759.40" y2="606.30" stroke="#141212" stroke-width="1.3"/>
<line x1="749.30" y1="639.50" x2="759.40" y2="639.50" stroke="#141212" stroke-width="1.3"/>
<rect x="759.40" y="587.40" width="38.00" height="70.90" fill="none" stroke="#141212" stroke-width="1.4"/>
<polygon points="770.00,608.90 781.70,602.50 781.70,615.30" fill="none" stroke="#141212" stroke-width="1.3" stroke-linejoin="miter" />
<polygon points="771.30,616.80 771.30,629.40 783.00,623.10" fill="none" stroke="#141212" stroke-width="1.3" stroke-linejoin="miter" />
<text x="799.60" y="620.00" font-family="Liberation Sans" font-size="10.5" fill="#141212" stroke="#141212" stroke-width="0.38" text-anchor="start" textLength="30.20" lengthAdjust="spacingAndGlyphs" >RS485</text>
<line x1="797.40" y1="622.80" x2="827.90" y2="622.80" stroke="#141212" stroke-width="1.3"/>
<line x1="656.80" y1="697.80" x2="693.30" y2="697.80" stroke="#141212" stroke-width="1.3"/>
<polygon points="686.1,697.8 675.2,694.8 675.2,700.8" fill="#141212"/>
<line x1="656.80" y1="731.00" x2="693.30" y2="731.00" stroke="#141212" stroke-width="1.3"/>
<polygon points="686.1,731.0 675.2,728.0 675.2,734.0" fill="#141212"/>
<text x="696.00" y="701.00" font-family="Liberation Sans" font-size="13.5" fill="#141212" stroke="#141212" stroke-width="0.3" text-anchor="start" textLength="45.30" lengthAdjust="spacing" >CLOCK</text>
<text x="696.00" y="736.20" font-family="Liberation Sans" font-size="13.5" fill="#141212" stroke="#141212" stroke-width="0.3" text-anchor="start" textLength="45.30" lengthAdjust="spacing" >CLOCK</text>
<line x1="696.70" y1="724.40" x2="741.50" y2="724.40" stroke="#141212" stroke-width="1.2"/>
<line x1="656.80" y1="770.50" x2="711.80" y2="770.50" stroke="#141212" stroke-width="1.3"/>
<polygon points="706.2,770.5 694,767.5 694,773.5" fill="#141212"/>
<line x1="656.80" y1="803.55" x2="711.80" y2="803.55" stroke="#141212" stroke-width="1.3"/>
<polygon points="706.2,803.55 694,800.55 694,806.55" fill="#141212"/>
<line x1="656.80" y1="861.00" x2="711.80" y2="861.00" stroke="#141212" stroke-width="1.3"/>
<polygon points="706.2,861.0 694,858.0 694,864.0" fill="#141212"/>
<line x1="656.80" y1="894.00" x2="711.80" y2="894.00" stroke="#141212" stroke-width="1.3"/>
<polygon points="706.2,894.0 694,891.0 694,897.0" fill="#141212"/>
<line x1="671.40" y1="770.50" x2="671.40" y2="861.00" stroke="#141212" stroke-width="1.3"/>
<line x1="683.10" y1="803.55" x2="683.10" y2="894.00" stroke="#141212" stroke-width="1.0"/>
<circle cx="671.40" cy="770.50" r="2.4" fill="#141212"/>
<circle cx="683.10" cy="803.55" r="2.4" fill="#141212"/>
<circle cx="671.40" cy="861.00" r="2.4" fill="#141212"/>
<circle cx="683.10" cy="894.00" r="2.4" fill="#141212"/>
<text x="715.60" y="772.80" font-family="Liberation Sans" font-size="14" fill="#141212" stroke="#141212" stroke-width="0.3" text-anchor="start" >U</text>
<text x="725.80" y="775.10" font-family="Liberation Sans" font-size="9.5" fill="#141212" stroke="#141212" stroke-width="0.38" text-anchor="start" >P</text>
<text x="715.80" y="808.70" font-family="Liberation Sans" font-size="14" fill="#141212" stroke="#141212" stroke-width="0.3" text-anchor="start" textLength="18.90" lengthAdjust="spacing" >0V</text>
<text x="715.60" y="863.60" font-family="Liberation Sans" font-size="14" fill="#141212" stroke="#141212" stroke-width="0.3" text-anchor="start" >U</text>
<text x="725.80" y="865.90" font-family="Liberation Sans" font-size="9.5" fill="#141212" stroke="#141212" stroke-width="0.38" text-anchor="start" >P</text>
<text x="715.80" y="899.20" font-family="Liberation Sans" font-size="14" fill="#141212" stroke="#141212" stroke-width="0.3" text-anchor="start" textLength="18.90" lengthAdjust="spacing" >0V</text>
<text x="722.20" y="787.80" font-family="Liberation Sans" font-size="10.5" fill="#141212" stroke="#141212" stroke-width="0.38" text-anchor="start" >Sens</text>
<text x="698.70" y="881.00" font-family="Liberation Sans" font-size="11" fill="#141212" stroke="#141212" stroke-width="0.2" text-anchor="start" textLength="66.00" lengthAdjust="spacingAndGlyphs" >Alimentation</text>
<text x="771.50" y="881.00" font-family="Liberation Sans" font-size="11" fill="#141212" stroke="#141212" stroke-width="0.2" text-anchor="start" textLength="12.30" lengthAdjust="spacingAndGlyphs" >en</text>
<text x="790.90" y="881.00" font-family="Liberation Sans" font-size="11" fill="#141212" stroke="#141212" stroke-width="0.2" text-anchor="start" textLength="38.00" lengthAdjust="spacingAndGlyphs" >tension</text>
</svg>
</body></html>
